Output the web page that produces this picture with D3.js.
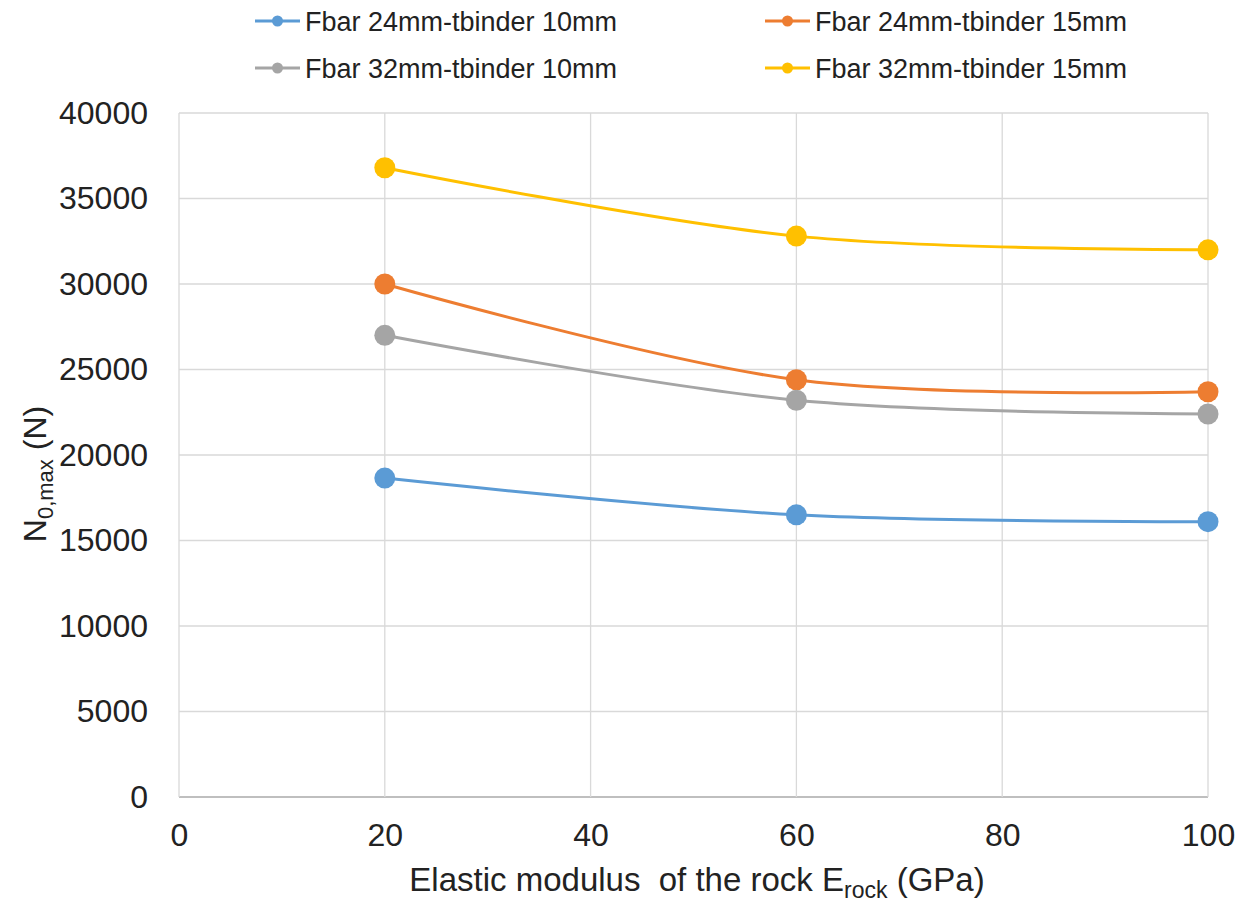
<!DOCTYPE html>
<html>
<head>
<meta charset="utf-8">
<script src="https://cdn.jsdelivr.net/npm/d3@7"></script>
<style>
  html, body { margin: 0; padding: 0; background: #fff; }
  svg { display: block; font-family: "Liberation Sans", Arial, sans-serif; }
</style>
</head>
<body>
<svg id="chart" width="1250" height="910"></svg>
<script>
const xValues = [20, 60, 100];
const seriesNames = [
  "Fbar 24mm-tbinder 10mm",
  "Fbar 24mm-tbinder 15mm",
  "Fbar 32mm-tbinder 10mm",
  "Fbar 32mm-tbinder 15mm"
];
const seriesColors = ["#5B9BD5", "#ED7D31", "#A5A5A5", "#FFC000"];
const bar24binder10 = [18650, 16500, 16100];
const bar24binder15 = [30000, 24400, 23700];
const bar32binder10 = [27000, 23200, 22400];
const bar32binder15 = [36800, 32800, 32000];
const xTicks = [0, 20, 40, 60, 80, 100];
const yTicks = [0, 5000, 10000, 15000, 20000, 25000, 30000, 35000, 40000];

const seriesValues = [bar24binder10, bar24binder15, bar32binder10, bar32binder15];
const series = seriesNames.map((name, i) => ({
  name, color: seriesColors[i],
  points: xValues.map((x, j) => ({ x, y: seriesValues[i][j] }))
}));

const svg = d3.select("#chart");
const plot = { left: 179, right: 1208, top: 113, bottom: 797 };

const x = d3.scaleLinear().domain([0, 100]).range([plot.left, plot.right]);
const y = d3.scaleLinear().domain([0, 40000]).range([plot.bottom, plot.top]);

// gridlines
const grid = svg.append("g");
grid.selectAll("line.h").data(yTicks).join("line")
  .attr("x1", plot.left).attr("x2", plot.right)
  .attr("y1", d => y(d)).attr("y2", d => y(d))
  .attr("stroke", d => d === 0 ? "#bfbfbf" : "#d9d9d9")
  .attr("stroke-width", d => d === 0 ? 2 : 1.3);
grid.selectAll("line.v").data(xTicks).join("line")
  .attr("y1", plot.top).attr("y2", plot.bottom)
  .attr("x1", d => x(d)).attr("x2", d => x(d))
  .attr("stroke", "#d9d9d9").attr("stroke-width", 1.3);

// y axis labels
const yAxis = d3.axisLeft(y).tickValues(yTicks).tickSize(0).tickPadding(31).tickFormat(d3.format("d"));
const yg = svg.append("g").attr("transform", `translate(${plot.left},0)`).call(yAxis);
yg.select(".domain").remove();
yg.selectAll("text").attr("font-size", 32).attr("fill", "#222").attr("font-family", "Liberation Sans, Arial, sans-serif");

// x axis labels
const xAxis = d3.axisBottom(x).tickValues(xTicks).tickSize(0).tickPadding(26).tickFormat(d3.format("d"));
const xg = svg.append("g").attr("transform", `translate(0,${plot.bottom})`).call(xAxis);
xg.select(".domain").remove();
xg.selectAll("text").attr("font-size", 32).attr("fill", "#222").attr("font-family", "Liberation Sans, Arial, sans-serif");

// lines
const line = d3.line().x(d => x(d.x)).y(d => y(d.y)).curve(d3.curveCardinal.tension(0));
const sg = svg.append("g").selectAll("g").data(series).join("g");
sg.append("path").attr("d", d => line(d.points)).attr("fill", "none")
  .attr("stroke", d => d.color).attr("stroke-width", 3);
sg.selectAll("circle").data(d => d.points.map(p => ({ ...p, color: d.color }))).join("circle")
  .attr("cx", d => x(d.x)).attr("cy", d => y(d.y)).attr("r", 10.5)
  .attr("fill", d => d.color);

// axis titles
const xt = svg.append("text").attr("x", 697).attr("y", 891).attr("text-anchor", "middle")
  .attr("font-size", 33).attr("fill", "#222");
xt.append("tspan").text("Elastic modulus\u00A0 of the rock E");
xt.append("tspan").attr("font-size", 23).attr("dy", 7).text("rock");
xt.append("tspan").attr("dy", -7).text(" (GPa)");

const yt = svg.append("text").attr("transform", "translate(46,474) rotate(-90)")
  .attr("text-anchor", "middle").attr("font-size", 32).attr("fill", "#222");
yt.append("tspan").text("N");
yt.append("tspan").attr("font-size", 22).attr("dy", 7).text("0,max");
yt.append("tspan").attr("dy", -7).text(" (N)");

// legend
const legendPos = [
  { lx: 255, ty: 21 }, { lx: 765, ty: 21 },
  { lx: 255, ty: 68 }, { lx: 765, ty: 68 }
];
const lg = svg.append("g").selectAll("g").data(series).join("g")
  .attr("transform", (d, i) => `translate(${legendPos[i].lx},${legendPos[i].ty})`);
lg.append("line").attr("x1", 0).attr("x2", 45).attr("y1", 0).attr("y2", 0)
  .attr("stroke", d => d.color).attr("stroke-width", 3);
lg.append("circle").attr("cx", 22.5).attr("cy", 0).attr("r", 5.5).attr("fill", d => d.color);
lg.append("text").attr("x", 50).attr("y", 0).attr("dy", "0.36em")
  .attr("font-size", 27).attr("fill", "#222").text(d => d.name);
</script>
</body>
</html>
